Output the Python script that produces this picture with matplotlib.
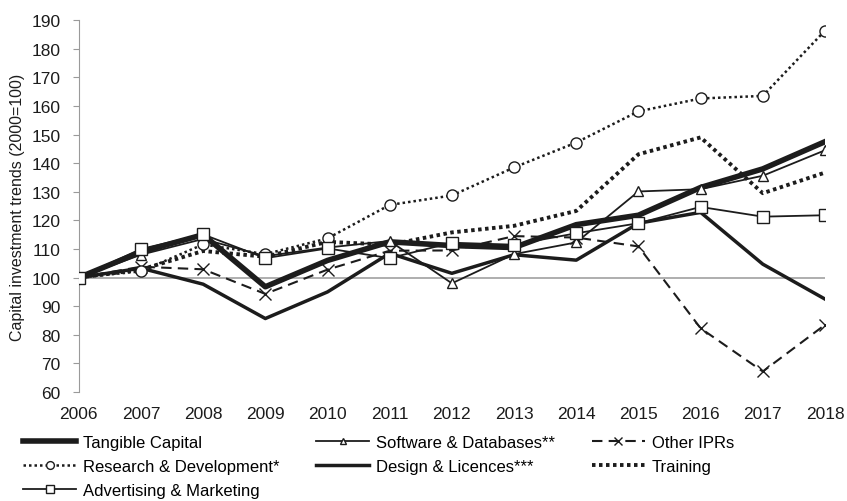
import matplotlib.pyplot as plt

years = list(range(2006, 2019))

tangible = [100, 109, 115, 96.8, 106, 112.5, 111.2, 110.5, 118.5, 121.8, 131.5, 138, 147.5]
software = [100, 108, 113.5, 107.5, 110.5, 112.8, 98, 108.2, 112.3, 130.1, 130.9, 135.6, 144.5]
other_iprs = [100, 103.8, 102.9, 94.3, 102.8, 109.4, 109.5, 114.5, 114, 110.9, 82.3, 67.2, 83.5]
research = [100, 102.2, 111.6, 108.2, 113.7, 125.4, 128.7, 138.5, 147.2, 158.1, 162.6, 163.5, 186.3]
design = [100, 103.3, 97.7, 85.7, 95, 108.5, 101.5, 108, 106.1, 119, 122.8, 104.7, 92.5]
training = [100, 102.8, 109.3, 107.3, 112.5, 111.5, 115.8, 118.1, 123.3, 143.1, 149, 129.5, 136.7]
advertising = [100, 110, 115.1, 106.8, 110.2, 106.8, 112.2, 111.5, 115.5, 119, 124.7, 121.3, 121.8]

plt.rcParams['font.family'] = ['Liberation Sans', 'DejaVu Sans']
ink = '#1c1c1c'

fig = plt.figure(figsize=(8.47, 5.02), dpi=100)
ax = fig.add_axes([0.093, 0.217, 0.881, 0.741])

# grey baseline at 100 (category axis crosses here)
ax.axhline(100, color='#a8a8a8', lw=1.3, zorder=1)

h_tan, = ax.plot(years, tangible, color=ink, lw=4, label='Tangible Capital', zorder=3)
h_sw, = ax.plot(years, software, color=ink, lw=1.3, marker='^', ms=7, mfc='white',
                mec=ink, mew=1, label='Software & Databases**', zorder=4)
h_oth, = ax.plot(years, other_iprs, color=ink, lw=1.5, ls=(0, (5, 3)), marker='x', ms=8,
                 mew=1, label='Other IPRs', zorder=4)
h_rd, = ax.plot(years, research, color=ink, lw=1.8, ls=(0, (1, 1.2)), marker='o', ms=8,
                mfc='white', mec=ink, mew=1, label='Research & Development*', zorder=4)
h_des, = ax.plot(years, design, color=ink, lw=2.5, label='Design & Licences***', zorder=3)
h_tr, = ax.plot(years, training, color=ink, lw=2.8, ls=(0, (0.9, 0.9)), label='Training', zorder=3)
h_adv, = ax.plot(years, advertising, color=ink, lw=1.3, marker='s', ms=8, mfc='white',
                 mec=ink, mew=1, label='Advertising & Marketing', zorder=5)

ax.set_xlim(2006, 2018)
ax.set_ylim(60, 190)
ax.set_yticks(range(60, 191, 10))
ax.set_xticks(years)

for side in ['top', 'right', 'bottom']:
    ax.spines[side].set_visible(False)
ax.spines['left'].set_color('#9a9a9a')
ax.tick_params(axis='y', colors='#9a9a9a', labelcolor=ink, length=4, labelsize=12.5, pad=9)
ax.tick_params(axis='x', length=0, labelsize=12.5, labelcolor=ink, pad=10)
ax.set_ylabel('Capital investment trends (2000=100)', fontsize=11.5, color=ink, labelpad=5)

handles = [h_tan, h_rd, h_adv, h_sw, h_des, h_oth, h_tr]
fig.legend(handles=handles, labels=[h.get_label() for h in handles], ncol=3,
           loc='upper left', bbox_to_anchor=(0.027, 0.132), frameon=False, fontsize=12,
           handlelength=3.2, handletextpad=0.4, columnspacing=2.2, labelspacing=0.55,
           markerscale=0.7, borderaxespad=0, borderpad=0)

fig.savefig('out.png', dpi=100)
